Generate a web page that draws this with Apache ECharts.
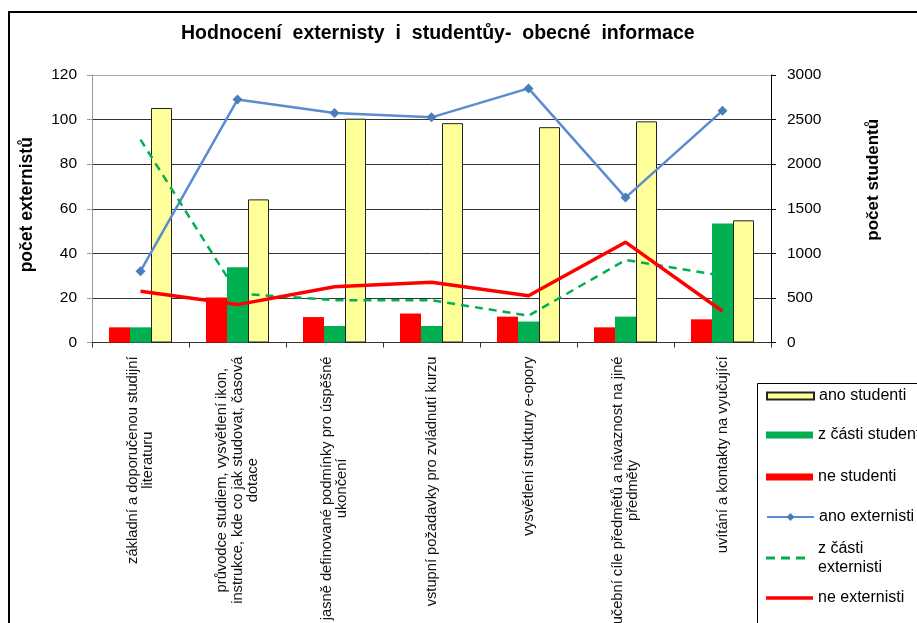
<!DOCTYPE html>
<html>
<head>
<meta charset="utf-8">
<script src="https://cdn.jsdelivr.net/npm/echarts@6/dist/echarts.min.js"></script>
<style>
html,body{margin:0;padding:0;background:#fff;}
#chart{width:917px;height:623px;}
</style>
</head>
<body>
<div id="chart"></div>
<script>
var categories = [
  'základní a doporučenou studijní\nliteraturu',
  'průvodce studiem, vysvětlení ikon,\ninstrukce, kde co jak studovat, časová\ndotace',
  'jasně definované podmínky pro úspěšné\nukončení',
  'vstupní požadavky pro zvládnutí kurzu',
  'vysvětlení struktury e-opory',
  'učební cíle předmětů a návaznost na jiné\npředměty',
  'uvítání a kontakty na vyučující'
];
var anoStudenti = [2630, 1605, 2510, 2460, 2415, 2480, 1370];
var castStudenti = [170, 845, 185, 185, 235, 290, 1335];
var neStudenti = [170, 505, 285, 325, 290, 170, 260];
var anoExternisti = [32, 109, 103, 101, 114, 65, 104];
var castExternisti = [91, 22, 19, 19, 12, 37, 30];
var neExternisti = [23, 17, 25, 27, 21, 45, 14];
var leftTicks = {min: 0, max: 120, interval: 20};
var rightTicks = {min: 0, max: 3000, interval: 500};

var FONT = 'Liberation Sans, Arial, sans-serif';
var chart = echarts.init(document.getElementById('chart'));

var LEGEND_TEXT = {fontFamily: FONT, fontSize: 16, color: '#000', lineHeight: 19};

function legendAt(name, centerY, opts) {
  var o = {
    data: [name],
    orient: 'vertical',
    left: 766,
    top: centerY - 9.5,
    padding: 0,
    itemWidth: 47,
    itemHeight: 7,
    symbolKeepAspect: false,
    selectedMode: false,
    textStyle: LEGEND_TEXT
  };
  if (opts) { for (var k in opts) o[k] = opts[k]; }
  return o;
}

var option = {
  backgroundColor: '#fff',
  animation: false,
  title: {
    text: 'Hodnocení  externisty  i  studentůy-  obecné  informace',
    left: 176,
    top: 19,
    textStyle: {fontFamily: FONT, fontSize: 19.5, fontWeight: 'bold', color: '#000'}
  },
  graphic: [
    {type: 'rect', shape: {x: 9, y: 12, width: 1000, height: 1000}, style: {fill: 'none', stroke: '#000', lineWidth: 2}, z: 100},
    {type: 'rect', shape: {x: 757.5, y: 383.5, width: 300, height: 400}, style: {fill: 'none', stroke: '#000', lineWidth: 1}, z: 100}
  ],
  legend: [
    legendAt('ano studenti', 396, {data: [{name: 'ano studenti', icon: 'rect'}]}),
    legendAt('z části studenti', 435, {data: [{name: 'z části studenti', icon: 'rect'}]}),
    legendAt('ne studenti', 477, {data: [{name: 'ne studenti', icon: 'rect'}]}),
    legendAt('ano externisti', 517, {itemHeight: 10}),
    legendAt('z části externisti', 558, {
      top: 558 - 28.5,
      itemHeight: 3,
      data: [{name: 'z části externisti', icon: 'path://M0,0h9v3h-9z M15,0h9v3h-9z M30,0h9v3h-9z M46.9,0h0.1v3h-0.1z'}],
      formatter: function () { return 'z části\nexternisti'; },
      textStyle: {fontFamily: FONT, fontSize: 16, color: '#000', lineHeight: 19, padding: [19, 0, 0, 0]}
    }),
    legendAt('ne externisti', 598, {itemHeight: 3.5, data: [{name: 'ne externisti', icon: 'rect'}]})
  ],
  grid: {left: 92, top: 75, width: 679, height: 267.5, containLabel: false, outerBoundsMode: 'none', show: false},
  xAxis: {
    type: 'category',
    data: categories,
    axisLine: {lineStyle: {color: '#333', width: 1}},
    axisTick: {show: true, length: 5, lineStyle: {color: '#333'}},
    axisLabel: {
      interval: 0,
      rotate: 90,
      margin: 14,
      fontFamily: FONT,
      fontSize: 14.7,
      lineHeight: 15.5,
      color: '#111',
      formatter: function (v) {
        return v.split('\n').map(function (l) { return '{c|' + l + '}'; }).join('\n');
      },
      rich: {c: {align: 'center', fontFamily: FONT, fontSize: 14.7, lineHeight: 15.5, color: '#111'}}
    }
  },
  yAxis: [
    {
      type: 'value',
      position: 'left',
      min: leftTicks.min, max: leftTicks.max, interval: leftTicks.interval,
      name: 'počet externistů',
      nameLocation: 'middle',
      nameGap: 56,
      nameRotate: 90,
      nameTextStyle: {fontFamily: FONT, fontSize: 17.5, fontWeight: 'bold', color: '#000', padding: [0, 0, 0, 8]},
      axisLine: {show: true, lineStyle: {color: '#999'}},
      axisTick: {show: true, length: 5, lineStyle: {color: '#999'}},
      axisLabel: {fontFamily: FONT, fontSize: 15.5, color: '#000', margin: 15},
      splitLine: {show: true, lineStyle: {color: ['#333', '#333', '#333', '#333', '#333', '#333', '#aaa'], width: 1}}
    },
    {
      type: 'value',
      position: 'right',
      min: rightTicks.min, max: rightTicks.max, interval: rightTicks.interval,
      name: 'počet studentů',
      nameLocation: 'middle',
      nameGap: 94,
      nameRotate: 90,
      nameTextStyle: {fontFamily: FONT, fontSize: 17, fontWeight: 'bold', color: '#000', padding: [0, 0, 0, 58]},
      axisLine: {show: true, lineStyle: {color: '#000'}},
      axisTick: {show: true, length: 5, lineStyle: {color: '#000'}},
      axisLabel: {fontFamily: FONT, fontSize: 15.5, color: '#000', margin: 16,
        formatter: function (v) { return String(v); }},
      splitLine: {show: false}
    }
  ],
  series: [
    {name: 'ne studenti', type: 'bar', yAxisIndex: 1, data: neStudenti, barWidth: 21, barGap: '0%',
      itemStyle: {color: '#FF0000'}, z: 2},
    {name: 'z části studenti', type: 'bar', yAxisIndex: 1, data: castStudenti, barWidth: 21, barGap: '0%',
      itemStyle: {color: '#00B050'}, z: 2},
    {name: 'ano studenti', type: 'bar', yAxisIndex: 1, data: anoStudenti, barWidth: 21, barGap: '0%',
      itemStyle: {color: '#FFFF99', borderColor: '#222', borderWidth: 1}, z: 2},
    {name: 'ano externisti', type: 'line', yAxisIndex: 0, data: anoExternisti,
      symbol: 'diamond', symbolSize: 10, showSymbol: true,
      lineStyle: {color: '#5B8BD0', width: 2.5}, itemStyle: {color: '#4A7EBB'}, z: 5},
    {name: 'z části externisti', type: 'line', yAxisIndex: 0, data: castExternisti,
      symbol: 'none', lineStyle: {color: '#00B050', width: 2.5, type: [8, 6]}, itemStyle: {color: '#00B050'}, z: 5},
    {name: 'ne externisti', type: 'line', yAxisIndex: 0, data: neExternisti,
      symbol: 'none', lineStyle: {color: '#FF0000', width: 3.5}, itemStyle: {color: '#FF0000'}, z: 5}
  ]
};
chart.setOption(option);
</script>
</body>
</html>
